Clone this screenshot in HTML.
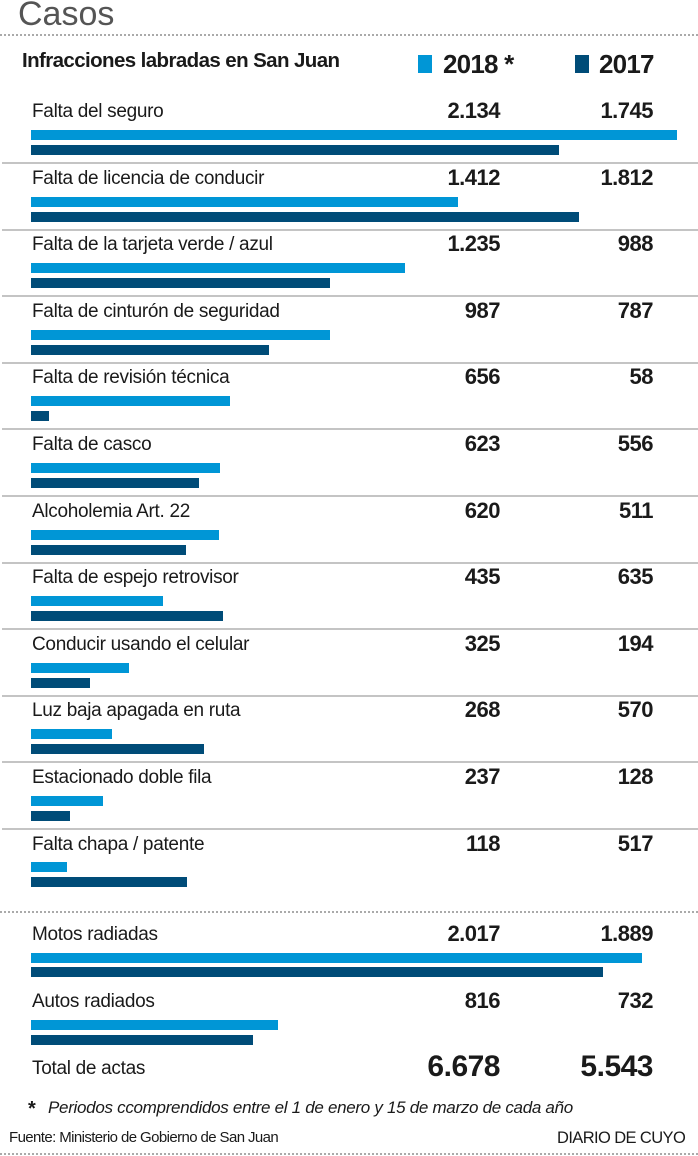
<!DOCTYPE html>
<html><head><meta charset="utf-8"><style>
body{margin:0;width:698px;height:1156px;background:#fff;position:relative;overflow:hidden;font-family:"Liberation Sans",sans-serif;color:#1a1a1a}
div{position:absolute}
.l{left:32px;font-size:19px;line-height:20px;letter-spacing:-0.3px}
.a,.b{font-size:22px;font-weight:bold;line-height:22px;text-align:right;width:140px;letter-spacing:-0.5px}
.a{left:360px}.b{left:513px}
.c{left:31px;height:10px;background:#0096d6}
.d{left:31px;height:10px;background:#004c78}
.s{left:2px;width:696px;height:0;border-top:2px solid #c4c4c4}
.dot{left:0;width:698px;height:0;border-top:2px dotted #aaa}
</style></head><body>
<div style="left:18px;top:-6px;font-size:34px;color:#555;line-height:40px">Casos</div>
<div class="dot" style="top:34px"></div>
<div style="left:22px;top:50px;font-size:20.5px;font-weight:bold;letter-spacing:-0.6px;line-height:22px">Infracciones labradas en San Juan</div>
<div style="left:418px;top:55px;width:14px;height:18px;background:#0096d6"></div>
<div style="left:443px;top:49px;font-size:26px;font-weight:bold;line-height:30px;letter-spacing:-0.8px">2018 *</div>
<div style="left:575px;top:55px;width:14px;height:18px;background:#004c78"></div>
<div style="left:599px;top:49px;font-size:26px;font-weight:bold;line-height:30px;letter-spacing:-0.8px">2017</div>

<div class="l" style="top:102px">Falta del seguro</div><div class="a" style="top:100px">2.134</div><div class="b" style="top:100px">1.745</div>
<div class="c" style="top:130px;width:646px"></div><div class="d" style="top:145px;width:528px"></div>
<div class="s" style="top:162px"></div>

<div class="l" style="top:169px">Falta de licencia de conducir</div><div class="a" style="top:167px">1.412</div><div class="b" style="top:167px">1.812</div>
<div class="c" style="top:197px;width:427px"></div><div class="d" style="top:212px;width:548px"></div>
<div class="s" style="top:229px"></div>

<div class="l" style="top:235px">Falta de la tarjeta verde / azul</div><div class="a" style="top:233px">1.235</div><div class="b" style="top:233px">988</div>
<div class="c" style="top:263px;width:374px"></div><div class="d" style="top:278px;width:299px"></div>
<div class="s" style="top:295px"></div>

<div class="l" style="top:302px">Falta de cinturón de seguridad</div><div class="a" style="top:300px">987</div><div class="b" style="top:300px">787</div>
<div class="c" style="top:330px;width:299px"></div><div class="d" style="top:345px;width:238px"></div>
<div class="s" style="top:362px"></div>

<div class="l" style="top:368px">Falta de revisión técnica</div><div class="a" style="top:366px">656</div><div class="b" style="top:366px">58</div>
<div class="c" style="top:396px;width:199px"></div><div class="d" style="top:411px;width:18px"></div>
<div class="s" style="top:428px"></div>

<div class="l" style="top:435px">Falta de casco</div><div class="a" style="top:433px">623</div><div class="b" style="top:433px">556</div>
<div class="c" style="top:463px;width:189px"></div><div class="d" style="top:478px;width:168px"></div>
<div class="s" style="top:495px"></div>

<div class="l" style="top:502px">Alcoholemia Art. 22</div><div class="a" style="top:500px">620</div><div class="b" style="top:500px">511</div>
<div class="c" style="top:530px;width:188px"></div><div class="d" style="top:545px;width:155px"></div>
<div class="s" style="top:562px"></div>

<div class="l" style="top:568px">Falta de espejo retrovisor</div><div class="a" style="top:566px">435</div><div class="b" style="top:566px">635</div>
<div class="c" style="top:596px;width:132px"></div><div class="d" style="top:611px;width:192px"></div>
<div class="s" style="top:628px"></div>

<div class="l" style="top:635px">Conducir usando el celular</div><div class="a" style="top:633px">325</div><div class="b" style="top:633px">194</div>
<div class="c" style="top:663px;width:98px"></div><div class="d" style="top:678px;width:59px"></div>
<div class="s" style="top:695px"></div>

<div class="l" style="top:701px">Luz baja apagada en ruta</div><div class="a" style="top:699px">268</div><div class="b" style="top:699px">570</div>
<div class="c" style="top:729px;width:81px"></div><div class="d" style="top:744px;width:173px"></div>
<div class="s" style="top:761px"></div>

<div class="l" style="top:768px">Estacionado doble fila</div><div class="a" style="top:766px">237</div><div class="b" style="top:766px">128</div>
<div class="c" style="top:796px;width:72px"></div><div class="d" style="top:811px;width:39px"></div>
<div class="s" style="top:828px"></div>

<div class="l" style="top:835px">Falta chapa / patente</div><div class="a" style="top:833px">118</div><div class="b" style="top:833px">517</div>
<div class="c" style="top:862px;width:36px"></div><div class="d" style="top:877px;width:156px"></div>

<div class="dot" style="top:911px"></div>

<div class="l" style="top:925px">Motos radiadas</div><div class="a" style="top:923px">2.017</div><div class="b" style="top:923px">1.889</div>
<div class="c" style="top:953px;width:611px"></div><div class="d" style="top:967px;width:572px"></div>

<div class="l" style="top:992px">Autos radiados</div><div class="a" style="top:990px">816</div><div class="b" style="top:990px">732</div>
<div class="c" style="top:1020px;width:247px"></div><div class="d" style="top:1035px;width:222px"></div>

<div class="l" style="top:1059px">Total de actas</div>
<div class="a" style="top:1051px;font-size:30px;line-height:32px">6.678</div><div class="b" style="top:1051px;font-size:30px;line-height:32px">5.543</div>

<div style="left:28px;top:1098px;font-size:20px;font-weight:bold;line-height:22px">*</div>
<div style="left:48px;top:1098px;font-size:17px;font-style:italic;line-height:20px;letter-spacing:-0.3px">Periodos ccomprendidos entre el 1 de enero y 15 de marzo de cada año</div>
<div style="left:9px;top:1129px;font-size:15px;line-height:18px;letter-spacing:-0.6px">Fuente: Ministerio de Gobierno de San Juan</div>
<div style="left:557px;top:1129px;font-size:16.5px;line-height:18px;letter-spacing:-0.6px">DIARIO DE CUYO</div>
<div class="dot" style="top:1153px"></div>
</body></html>
